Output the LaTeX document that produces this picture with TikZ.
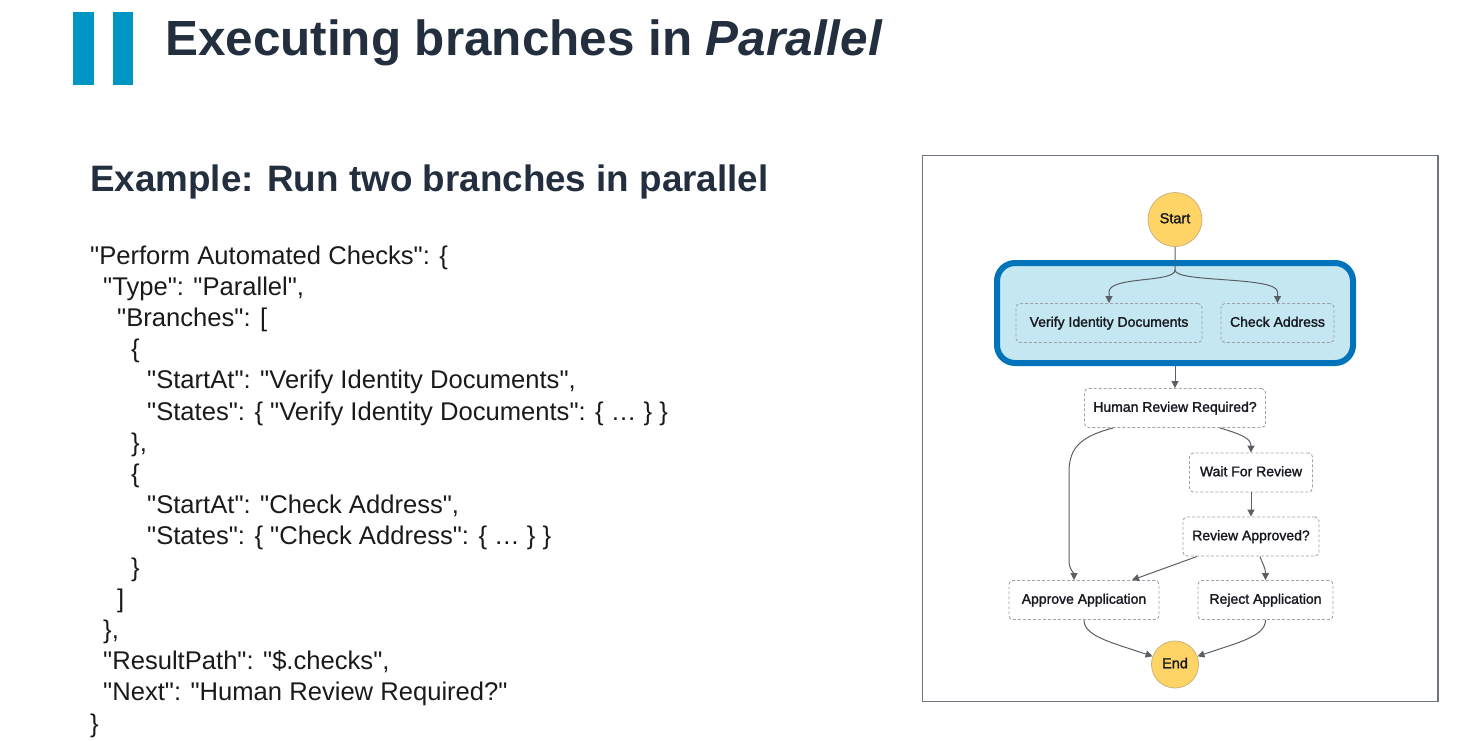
\documentclass[tikz,border=0pt]{standalone}
\usepackage{fontspec}
\setmainfont{Liberation Sans}[Ligatures=TeXOff]
\newfontfamily\labelfont{Liberation Sans}[FakeBold=1.6]
\usetikzlibrary{arrows.meta}

\definecolor{navy}{HTML}{232F3E}
\definecolor{barblue}{HTML}{0096C4}
\definecolor{codeink}{HTML}{1A1A1A}
\definecolor{frameline}{HTML}{6E7580}
\definecolor{stategray}{HTML}{A0A4A8}
\definecolor{edgegray}{HTML}{5A5F66}
\definecolor{parblue}{HTML}{0073BB}
\definecolor{parfill}{HTML}{C5E7F1}
\definecolor{termfill}{HTML}{FFD466}
\definecolor{termline}{HTML}{C9B37A}
\definecolor{labelink}{HTML}{16191F}

\tikzset{
  codeline/.style={anchor=base west, inner sep=0pt, text=codeink,
    font=\fontsize{25.6}{25.6}\selectfont},
  statebox/.style={draw=stategray, line width=0.9pt, dash pattern=on 3pt off 2pt,
    rounded corners=4pt, minimum height=39pt, inner sep=0pt, text=labelink,
    text height=10.5pt, text depth=3pt,
    font=\labelfont\fontsize{14}{14}\selectfont},
  terminal/.style={circle, fill=termfill, draw=termline, line width=0.8pt,
    inner sep=0pt, text=labelink, text height=10.5pt, text depth=3pt,
    font=\labelfont\fontsize{14.5}{14.5}\selectfont},
  edge/.style={draw=edgegray, line width=1pt,
    -{Triangle[length=7pt,width=7pt]}},
}

\begin{document}
\begin{tikzpicture}[x=1pt,y=-1pt]
\useasboundingbox (0,0) rectangle (1478,740);

% heading with its two bars
\fill[barblue] (73,12) rectangle (94,85);
\fill[barblue] (113,12) rectangle (133,85);
\node[anchor=base west, inner sep=0pt, text=navy,
  font=\fontsize{49.4}{49.4}\selectfont\bfseries] (title) at (165,55)
  {Executing branches in \textit{Parallel}};

\node[anchor=base west, inner sep=0pt, text=navy,
  font=\fontsize{36.8}{36.8}\selectfont\bfseries] (subtitle) at (90,191)
  {Example: Run two branches in parallel};

% state machine definition
\node[codeline] (c1)  at (90,264)    {"Perform Automated Checks": \{};
\node[codeline] (c2)  at (103,295.2) {"Type": "Parallel",};
\node[codeline] (c3)  at (117,326.4) {"Branches": [};
\node[codeline] (c4)  at (131,357.6) {\{};
\node[codeline] (c5)  at (147,388.8) {"StartAt": "Verify Identity Documents",};
\node[codeline] (c6)  at (147,420)   {"States": \{ "Verify Identity Documents": \{ … \} \}};
\node[codeline] (c7)  at (131,451.2) {\},};
\node[codeline] (c8)  at (131,482.4) {\{};
\node[codeline] (c9)  at (147,513.6) {"StartAt": "Check Address",};
\node[codeline] (c10) at (147,544.8) {"States": \{ "Check Address": \{ … \} \}};
\node[codeline] (c11) at (131,576)   {\}};
\node[codeline] (c12) at (117,607.2) {]};
\node[codeline] (c13) at (103,638.4) {\},};
\node[codeline] (c14) at (103,669.6) {"ResultPath": "\$.checks",};
\node[codeline] (c15) at (103,700.8) {"Next": "Human Review Required?"};
\node[codeline] (c16) at (90,732)    {\}};

% workflow graph
\draw[frameline, line width=1.2pt] (922.5,155.5) rectangle (1438,701.5);

\node[draw=parblue, fill=parfill, line width=6pt, rounded corners=18pt,
  minimum width=356pt, minimum height=100pt, inner sep=0pt] (par) at (1175,313) {};

\node[terminal, minimum size=54pt] (start) at (1175,219.5) {Start};
\node[statebox, minimum width=186pt] (verify)  at (1109,323)    {Verify Identity Documents};
\node[statebox, minimum width=113pt] (check)   at (1277.5,323)  {Check Address};
\node[statebox, minimum width=181pt] (hrr)     at (1175,408)    {Human Review Required?};
\node[statebox, minimum width=123pt] (wait)    at (1251,472.5)  {Wait For Review};
\node[statebox, minimum width=136pt] (ra)      at (1251,536.5)  {Review Approved?};
\node[statebox, minimum width=150pt] (approve) at (1084,600)    {Approve Application};
\node[statebox, minimum width=135pt] (reject)  at (1265.5,600)  {Reject Application};
\node[terminal, minimum size=47pt] (end) at (1175,664.5) {End};

\coordinate (fork) at (1175,270);
\draw[edge] (start.south) -- (fork) .. controls (1175,283) and (1109,276) .. (1109,292) -- (verify.north);
\draw[edge] (fork) .. controls (1175,283) and (1277.5,276) .. (1277.5,292) -- (check.north);
\draw[edge] (par.south) -- (hrr.north);
\draw[edge] ([xshift=-62pt]hrr.south) .. controls (1083,436) and (1069,446) .. (1069,472)
  -- (1069,560) .. controls (1069,570) and (1074,573) .. ([xshift=-10pt]approve.north);
\draw[edge] ([xshift=45pt]hrr.south) .. controls (1240,434) and (1251,438) .. (wait.north);
\draw[edge] (wait.south) -- (ra.north);
\draw[edge] ([xshift=-54pt]ra.south) -- ([xshift=48pt]approve.north);
\draw[edge] ([xshift=9pt]ra.south) .. controls (1263,565) and (1265.5,568) .. (reject.north);
\draw[edge] (approve.south) .. controls (1084,636) and (1110,642) .. (end.160);
\draw[edge] (reject.south) .. controls (1265.5,636) and (1240,642) .. (end.20);
\end{tikzpicture}
\end{document}
